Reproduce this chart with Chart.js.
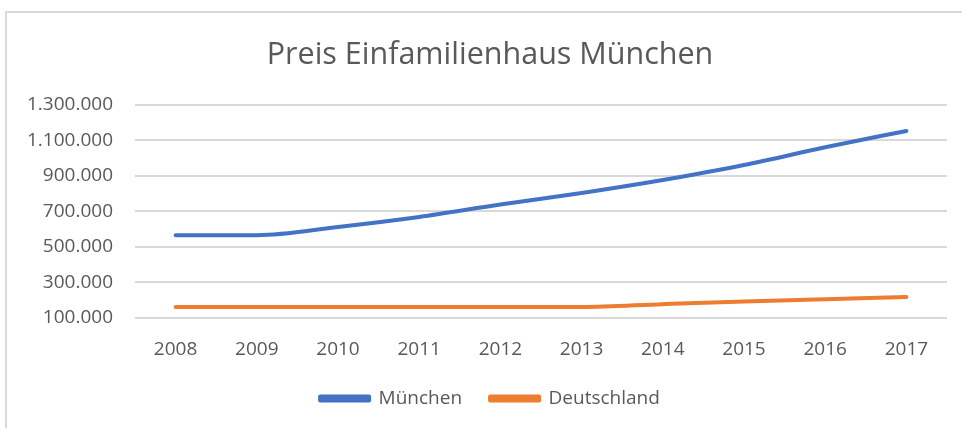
<!DOCTYPE html>
<html>
<head>
<meta charset="utf-8">
<script src="https://cdn.jsdelivr.net/npm/chart.js@4"></script>
<style>
  html, body { margin: 0; padding: 0; background: #fff; overflow: hidden; }
  #frame {
    position: absolute; left: 5px; top: 11px; width: 1000px; height: 500px;
    border: 2px solid #d9d9d9; box-sizing: border-box;
  }
  /* canvas runs a bit past the window so the title centre lands where Excel put it */
  #wrap { position: absolute; left: 0; top: 0; width: 980px; height: 418px; }
</style>
</head>
<body>
<div id="frame"></div>
<div id="wrap"><canvas id="chart"></canvas></div>
<script>
// Values (EUR)
const years = ['2008', '2009', '2010', '2011', '2012', '2013', '2014', '2015', '2016', '2017'];
const muenchen = [566000, 566000, 612000, 668000, 738000, 803000, 876000, 960000, 1060000, 1152000];
const deutschland = [162000, 162000, 162000, 162000, 162000, 162000, 178000, 193000, 206000, 218000];
const seriesNames = ['München', 'Deutschland'];
const title = 'Preis Einfamilienhaus München';

const yMin = 100000, yMax = 1300000, yStep = 200000;

const TEXT = '#595959';
const GRID = '#d9d9d9';
const FONT = "'Open Sans', sans-serif";

// German thousands separators: 1300000 -> 1.300.000
const fmt = (v) => String(Math.round(v)).replace(/\B(?=(\d{3})+(?!\d))/g, '.');

const line = (label, data, color) => ({
  label,
  data,
  borderColor: color,
  backgroundColor: color,
  borderWidth: 4,
  borderCapStyle: 'round',
  borderJoinStyle: 'round',
  pointRadius: 0,
  cubicInterpolationMode: 'monotone',
});

new Chart(document.getElementById('chart'), {
  type: 'line',
  data: {
    labels: years,
    datasets: [
      line(seriesNames[0], muenchen, '#4472c4'),
      line(seriesNames[1], deutschland, '#ed7d31'),
    ],
  },
  options: {
    responsive: true,
    maintainAspectRatio: false,
    animation: false,
    layout: { padding: { left: 0, right: 0, top: 37, bottom: 0 } },
    scales: {
      x: {
        offset: true,
        border: { display: false },
        grid: { display: false, drawTicks: false },
        ticks: {
          color: TEXT,
          font: { family: FONT, size: 19, lineHeight: 1 },
          padding: 22,
          maxRotation: 0,
        },
        // fixed band: tick padding + one line of labels
        afterFit: (scale) => { scale.height = 43; },
      },
      y: {
        min: yMin,
        max: yMax,
        border: { display: false },
        grid: { color: GRID, lineWidth: 2, drawTicks: false },
        ticks: {
          stepSize: yStep,
          color: TEXT,
          font: { family: FONT, size: 19 },
          padding: 22,
          callback: (v) => fmt(v),
        },
        // pin the plot's left edge where the reference has it
        afterFit: (scale) => { scale.width = 135; },
      },
      // empty spacer on the right so the plot ends at x=947
      pad: {
        type: 'linear',
        position: 'right',
        border: { display: false },
        grid: { display: false, drawTicks: false },
        ticks: { display: false },
        afterFit: (scale) => { scale.width = 33; },
      },
    },
    plugins: {
      title: {
        display: true,
        text: title,
        color: TEXT,
        font: { family: FONT, size: 30.5, weight: 'normal' },
        padding: { top: 0, bottom: 31 },
      },
      legend: {
        position: 'bottom',
        labels: {
          color: TEXT,
          font: { family: FONT, size: 19 },
          boxWidth: 49,
          boxHeight: 4,
          padding: 28,
        },
      },
      tooltip: { enabled: false },
    },
  },
});
</script>
</body>
</html>
